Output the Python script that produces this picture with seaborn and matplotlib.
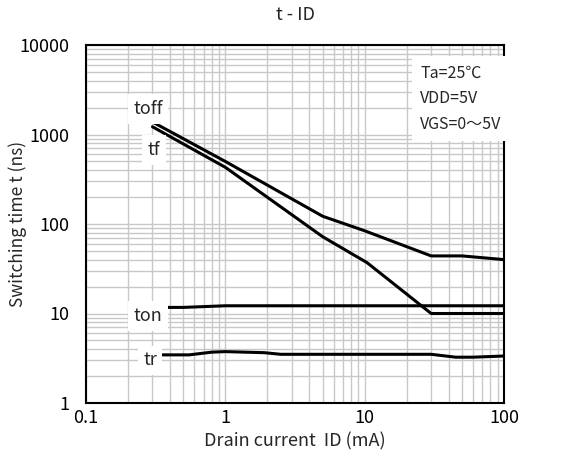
import matplotlib
matplotlib.use("Agg")
import matplotlib.pyplot as plt
import matplotlib.ticker as mticker
import seaborn as sns
import pandas as pd

# ---- data ----
toff_x = [0.3, 1, 5, 10, 30, 50, 100]
toff_y = [1380, 500, 122, 84, 44, 44, 40]

tf_x = [0.3, 1, 5, 10.4, 30, 100]
tf_y = [1220, 430, 72, 37, 10, 10]

ton_x = [0.3, 0.5, 1, 100]
ton_y = [11.7, 11.7, 12.2, 12.2]

tr_x = [0.3, 0.55, 0.8, 1, 1.9, 2.5, 30, 45, 60, 100]
tr_y = [3.45, 3.45, 3.7, 3.75, 3.65, 3.5, 3.5, 3.25, 3.25, 3.35]

series_names = ["toff", "tf", "ton", "tr"]
x_ticks = [0.1, 1, 10, 100]
x_tick_labels = ["0.1", "1", "10", "100"]
y_ticks = [1, 10, 100, 1000, 10000]
y_tick_labels = ["1", "10", "100", "1000", "10000"]

frames = []
for name, xs, ys in zip(series_names, [toff_x, tf_x, ton_x, tr_x], [toff_y, tf_y, ton_y, tr_y]):
    frames.append(pd.DataFrame({"ID": xs, "t": ys, "series": name}))
df = pd.concat(frames, ignore_index=True)

sns.set_theme(style="white")
plt.rcParams["font.family"] = ["Noto Sans CJK JP", "DejaVu Sans"]

fig = plt.figure(figsize=(5.8, 4.72), dpi=100)
ax = fig.add_axes([86 / 580, 1 - 403 / 472, (504 - 86) / 580, (403 - 45) / 472])

sns.lineplot(data=df, x="ID", y="t", units="series", estimator=None,
             color="black", linewidth=2.2, sort=False, ax=ax, legend=False)

ax.set_xscale("log")
ax.set_yscale("log")
ax.set_xlim(0.1, 100)
ax.set_ylim(1, 10000)

ax.xaxis.set_major_locator(mticker.FixedLocator(x_ticks))
ax.xaxis.set_major_formatter(mticker.FixedFormatter(x_tick_labels))
ax.yaxis.set_major_locator(mticker.FixedLocator(y_ticks))
ax.yaxis.set_major_formatter(mticker.FixedFormatter(y_tick_labels))
ax.xaxis.set_minor_locator(mticker.LogLocator(base=10, subs=range(2, 10), numticks=20))
ax.yaxis.set_minor_locator(mticker.LogLocator(base=10, subs=range(2, 10), numticks=20))
ax.xaxis.set_minor_formatter(mticker.NullFormatter())
ax.yaxis.set_minor_formatter(mticker.NullFormatter())

ax.grid(True, which="both", color="#c8c8c8", linewidth=1.0)
ax.set_axisbelow(True)
ax.tick_params(which="both", length=0, labelsize=13, colors="black")
ax.tick_params(axis="x", pad=4)
ax.tick_params(axis="y", pad=12)
for sp in ax.spines.values():
    sp.set_color("black")
    sp.set_linewidth(1.5)

ax.set_title("t - ID", fontsize=13, pad=18)
ax.set_xlabel("Drain current  ID (mA)", fontsize=13)
ax.set_ylabel("Switching time t (ns)", fontsize=12.5)
ax.xaxis.set_label_coords(0.5, -0.083)
ax.yaxis.set_label_coords(-0.14, 0.5)

box = dict(facecolor="white", edgecolor="none", pad=4)
ax.text(0.279, 1930, "toff", fontsize=13, ha="center", va="center", bbox=box)
ax.text(0.307, 671, "tf", fontsize=13, ha="center", va="center", bbox=box)
ax.text(0.279, 9.4, "ton", fontsize=13, ha="center", va="center", bbox=box)
ax.text(0.288, 3.0, "tr", fontsize=13, ha="center", va="center", bbox=box)

ax.text(0.8, 0.945, "Ta=25℃\nVDD=5V\nVGS=0～5V", transform=ax.transAxes,
        fontsize=11.5, ha="left", va="top", linespacing=1.65,
        bbox=dict(facecolor="white", edgecolor="none", pad=6))

fig.savefig("out.png", dpi=100)
